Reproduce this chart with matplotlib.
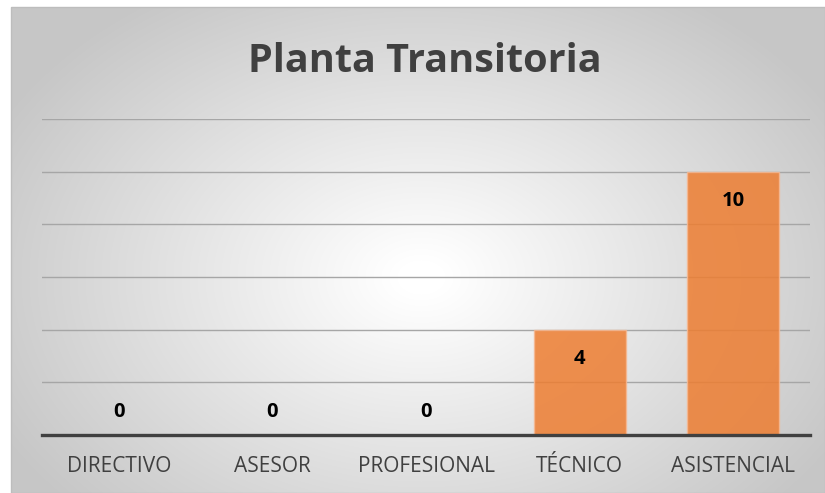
import matplotlib.pyplot as plt
import numpy as np

categories = ['DIRECTIVO', 'ASESOR', 'PROFESIONAL', 'TÉCNICO', 'ASISTENCIAL']
values = [0, 0, 0, 4, 10]
title = 'Planta Transitoria'

plt.rcParams['font.family'] = ['Open Sans', 'DejaVu Sans']

W, H = 825, 493
fig = plt.figure(figsize=(W / 100, H / 100), dpi=100)

# radial gradient background of the chart area
bg = fig.add_axes([11 / W, 0, 1 - 11 / W, (H - 7) / H])
yy, xx = np.mgrid[0:486, 0:814]
cx, cy = 410, 270
r = np.sqrt(((xx - cx) / 480.0) ** 2 + ((yy - cy) / 340.0) ** 2)
g = np.clip(258 - 60 * r, 198, 255) / 255.0
img = np.dstack([g, g, g])
bg.imshow(img, aspect='auto', interpolation='bilinear')
bg.set_axis_off()
fig.patches.append(plt.Rectangle((11 / W, 0), 1 - 11 / W, (H - 7) / H, transform=fig.transFigure,
                                 fill=False, edgecolor='#bdbdbd', linewidth=1))

ax = fig.add_axes([42 / W, (H - 435) / H, (810 - 42) / W, (435 - 119) / H])
ax.patch.set_alpha(0)
x = np.arange(len(categories))
ax.bar(x, values, width=0.6, color='#ED7D31', alpha=0.85, edgecolor='#F6B892', linewidth=1, zorder=3)
ax.set_xlim(-0.5, len(categories) - 0.5)
ax.set_ylim(0, 12)
ax.set_yticks(np.arange(0, 13, 2))
ax.yaxis.grid(True, color='#a6a6a6', linewidth=1, zorder=0)
ax.set_axisbelow(True)
ax.tick_params(axis='y', left=False, labelleft=False)
ax.tick_params(axis='x', length=0, pad=15, labelsize=15, labelcolor='#404040')
ax.set_xticks(x)
ax.set_xticklabels(categories)
for s in ['top', 'right', 'left']:
    ax.spines[s].set_visible(False)
ax.spines['bottom'].set_color('#404040')
ax.spines['bottom'].set_linewidth(2.4)
ax.spines['bottom'].set_zorder(5)

for xi, v in zip(x, values):
    ypos = v - 1.1 if v > 0 else 0.88
    ax.text(xi, ypos, str(v), ha='center', va='center', fontsize=14.5, fontweight='bold', color='black', zorder=6)

fig.text(425 / W, 1 - 62 / H, title, ha='center', va='center', fontsize=28.5, fontweight='bold', color='#404040')

fig.savefig('out.png', dpi=100)
